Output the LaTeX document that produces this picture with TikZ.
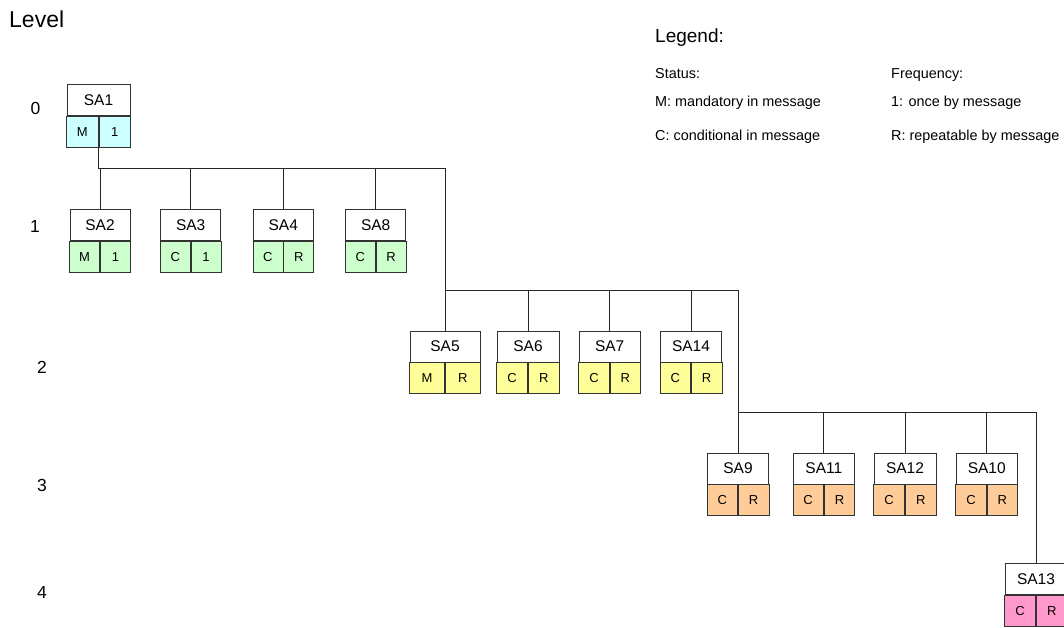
\documentclass[tikz,border=0pt]{standalone}
\usepackage{fontspec}
\setmainfont{Liberation Sans}

\definecolor{lvzero}{HTML}{CCFFFF}
\definecolor{lvone}{HTML}{CCFFCC}
\definecolor{lvtwo}{HTML}{FFFF99}
\definecolor{lvthree}{HTML}{FFCC99}
\definecolor{lvfour}{HTML}{FF99CC}

\tikzset{
  head/.style={draw=black!80, fill=white, line width=0.8pt, minimum height=31pt,
    inner sep=0pt, anchor=north, font=\fontsize{15.5}{15.5}\selectfont},
  cell/.style={draw=black!80, line width=0.8pt, minimum height=31pt,
    inner sep=0pt, font=\fontsize{13}{13}\selectfont},
  wire/.style={draw=black!85, line width=0.8pt},
  lvl/.style={anchor=base, inner sep=0pt, font=\fontsize{17.5}{17.5}\selectfont},
  legtext/.style={anchor=base west, inner sep=0pt, font=\fontsize{14.4}{14.4}\selectfont},
}

\begin{document}
\begin{tikzpicture}[x=1pt, y=-1pt]
    \useasboundingbox (0,0) rectangle (1064,628);

    % 1. Titles and level numbers
    \node[anchor=base west, inner sep=0pt, font=\fontsize{23}{23}\selectfont] (level) at (9,28) {Level};
    \node[lvl] (lv0) at (35.5,115) {0};
    \node[lvl] (lv1) at (35,232.5) {1};
    \node[lvl] (lv2) at (42,373.5) {2};
    \node[lvl] (lv3) at (42,491.5) {3};
    \node[lvl] (lv4) at (42,598.5) {4};

    % 2. Legend
    \node[legtext, font=\fontsize{19}{19}\selectfont] (legend) at (655,43) {Legend:};
    \node[legtext] (status) at (655,78.5) {Status:};
    \node[legtext] (stm) at (655,107) {M: mandatory in message};
    \node[legtext] (stc) at (655,141) {C: conditional in message};
    \node[legtext] (freq) at (891,78.5) {Frequency:};
    \node[legtext] (fr1) at (891,107) {1: once by message};
    \node[legtext] (frr) at (891,141) {R: repeatable by message};

    % 3. Segment boxes, one loop per level
    % name / centre x / width / status / frequency
    \foreach \n/\x/\w/\s/\f in {SA1/98.5/63/M/1}{
        \pgfmathsetmacro\hw{\w/2}
        \node[head, minimum width=\w pt] (\n) at (\x,84) {\n};
        \node[cell, fill=lvzero, minimum width=\hw pt, anchor=north east] (\n-s) at (\n.south) {\s};
        \node[cell, fill=lvzero, minimum width=\hw pt, anchor=north west] (\n-f) at (\n.south) {\f};
    }
    \foreach \n/\x/\w/\s/\f in {SA2/100/60/M/1, SA3/190.7/60/C/1, SA4/283.3/60/C/R, SA8/375.7/60/C/R}{
        \pgfmathsetmacro\hw{\w/2}
        \node[head, minimum width=\w pt] (\n) at (\x,209) {\n};
        \node[cell, fill=lvone, minimum width=\hw pt, anchor=north east] (\n-s) at (\n.south) {\s};
        \node[cell, fill=lvone, minimum width=\hw pt, anchor=north west] (\n-f) at (\n.south) {\f};
    }
    \foreach \n/\x/\w/\s/\f in {SA5/445/70/M/R, SA6/528/62/C/R, SA7/609.7/61/C/R, SA14/691/61/C/R}{
        \pgfmathsetmacro\hw{\w/2}
        \node[head, minimum width=\w pt] (\n) at (\x,330.5) {\n};
        \node[cell, fill=lvtwo, minimum width=\hw pt, anchor=north east] (\n-s) at (\n.south) {\s};
        \node[cell, fill=lvtwo, minimum width=\hw pt, anchor=north west] (\n-f) at (\n.south) {\f};
    }
    \foreach \n/\x/\w/\s/\f in {SA9/738/61/C/R, SA11/823.8/61/C/R, SA12/905/62/C/R, SA10/986.7/61/C/R}{
        \pgfmathsetmacro\hw{\w/2}
        \node[head, minimum width=\w pt] (\n) at (\x,452.5) {\n};
        \node[cell, fill=lvthree, minimum width=\hw pt, anchor=north east] (\n-s) at (\n.south) {\s};
        \node[cell, fill=lvthree, minimum width=\hw pt, anchor=north west] (\n-f) at (\n.south) {\f};
    }
    \foreach \n/\x/\w/\s/\f in {SA13/1036/62/C/R}{
        \pgfmathsetmacro\hw{\w/2}
        \node[head, minimum width=\w pt] (\n) at (\x,563) {\n};
        \node[cell, fill=lvfour, minimum width=\hw pt, anchor=north east] (\n-s) at (\n.south) {\s};
        \node[cell, fill=lvfour, minimum width=\hw pt, anchor=north west] (\n-f) at (\n.south) {\f};
    }

    % 4. Bus lines between the levels
    \coordinate (bus1) at (0,168);
    \coordinate (bus2) at (0,290);
    \coordinate (bus3) at (0,412);

    \draw[wire] (SA1-s.south east) |- (SA5.north |- bus1) -- (SA5.north);
    \foreach \c in {SA2, SA3, SA4, SA8}
        \draw[wire] (\c.north) -- (\c.north |- bus1);

    \draw[wire] (SA5.north |- bus2) -| (SA9.north);
    \foreach \c in {SA6, SA7, SA14}
        \draw[wire] (\c.north) -- (\c.north |- bus2);

    \draw[wire] (SA9.north |- bus3) -| (SA13.north);
    \foreach \c in {SA11, SA12, SA10}
        \draw[wire] (\c.north) -- (\c.north |- bus3);

\end{tikzpicture}
\end{document}
